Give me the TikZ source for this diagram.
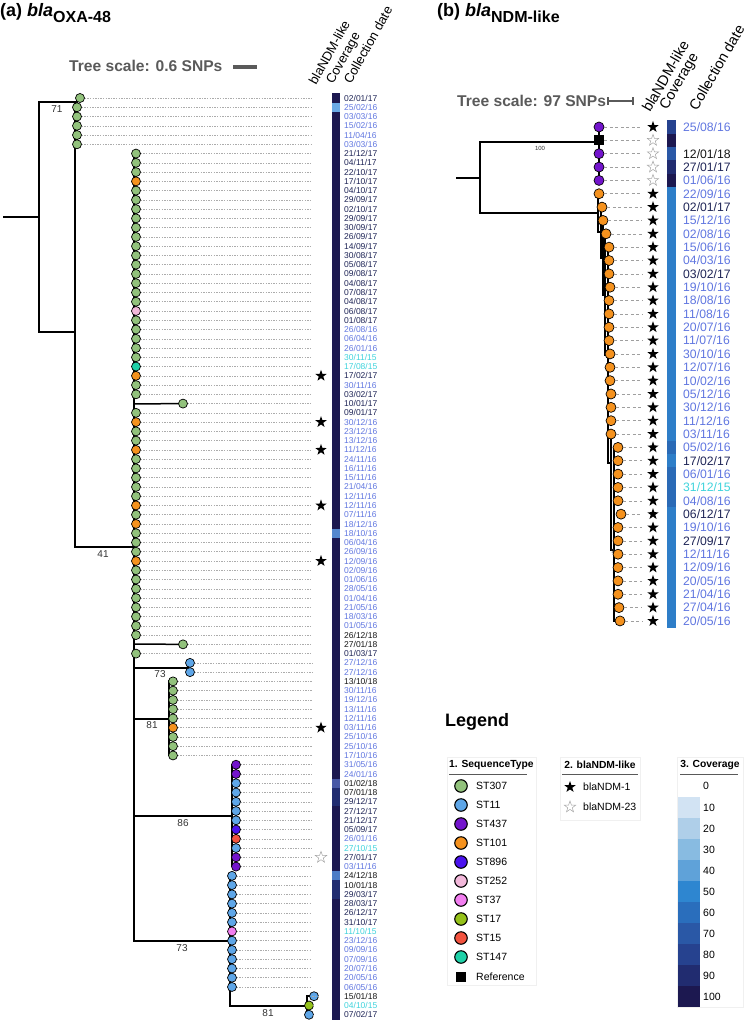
\documentclass[tikz,border=0pt]{standalone}
\usepackage{fontspec}
\setmainfont{Liberation Sans}
\usetikzlibrary{shapes.geometric}
\newcommand{\myfs}[1]{\fontsize{#1pt}{#1pt}\selectfont}
\definecolor{stg}{HTML}{92C27C}
\definecolor{stb}{HTML}{5EA6E8}
\definecolor{stp}{HTML}{7314CC}
\definecolor{sto}{HTML}{F5921E}
\definecolor{stv}{HTML}{4A12EE}
\definecolor{stk}{HTML}{F2B8DA}
\definecolor{stm}{HTML}{F27EF0}
\definecolor{sty}{HTML}{95C11A}
\definecolor{str}{HTML}{F2533F}
\definecolor{stt}{HTML}{1FD1A8}
\definecolor{cov0}{HTML}{FFFFFF}
\definecolor{cov10}{HTML}{D2E3F3}
\definecolor{cov20}{HTML}{AFCFE9}
\definecolor{cov30}{HTML}{88BBE1}
\definecolor{cov40}{HTML}{5FA2D9}
\definecolor{cov50}{HTML}{2E86D0}
\definecolor{cov60}{HTML}{2A6EBC}
\definecolor{cov70}{HTML}{2A58A6}
\definecolor{cov80}{HTML}{26428F}
\definecolor{cov90}{HTML}{212C70}
\definecolor{cov100}{HTML}{1C1850}
\definecolor{covA}{HTML}{6AAAE6}
\definecolor{covB}{HTML}{5588CE}
\definecolor{covC}{HTML}{4858A6}
\definecolor{covD}{HTML}{4C7CC6}
\definecolor{covE}{HTML}{2E7EC8}
\definecolor{covF}{HTML}{2A6AB6}
\definecolor{yr15}{HTML}{3FD3DC}
\definecolor{yr16}{HTML}{6076E0}
\definecolor{yr17}{HTML}{1E2456}
\definecolor{yr18}{HTML}{151515}
\definecolor{scalegray}{HTML}{5A5A5A}
\definecolor{lblgray}{HTML}{333333}
\begin{document}
\begin{tikzpicture}[x=1pt,y=-1pt,
  leafA/.style={circle,draw=black,line width=0.7pt,minimum size=9pt,inner sep=0pt},
  leafB/.style={circle,draw=black,line width=0.7pt,minimum size=10pt,inner sep=0pt},
  brA/.style={line width=1.5pt,line cap=rect},
  brB/.style={line width=1.1pt,line cap=rect},
  leadA/.style={draw=gray!65,line width=0.5pt,dash pattern=on 1.3pt off 1.3pt},
  leadB/.style={draw=gray!75,line width=0.6pt,dash pattern=on 3pt off 2.5pt},
  starf/.style={star,star points=5,star point ratio=2.5,fill=black,inner sep=0pt,minimum size=12pt},
  stare/.style={star,star points=5,star point ratio=2.5,draw=gray!70,fill=white,line width=0.5pt,inner sep=0pt,minimum size=12pt},
  dateA/.style={anchor=west,inner sep=0pt,font=\myfs{8.5}},
  dateB/.style={anchor=west,inner sep=0pt,font=\myfs{12.2}},
  hdrA/.style={anchor=base west,rotate=61,inner sep=0pt,font=\myfs{13}},
  hdrB/.style={anchor=base west,rotate=60,inner sep=0pt,font=\myfs{14.5}},
  blbl/.style={inner sep=0pt,font=\myfs{10},text=lblgray},
  ttl/.style={anchor=base west,inner sep=0pt,font=\bfseries\myfs{18}},
  scl/.style={anchor=base west,inner sep=0pt,font=\bfseries\myfs{15.6},text=scalegray},
  lgbox/.style={draw=gray!12,line width=0.6pt},
  lgt/.style={inner sep=0pt,font=\bfseries\myfs{10.3}},
  lgx/.style={anchor=west,inner sep=0pt,font=\myfs{10.5}}
]
\useasboundingbox (0,0) rectangle (746,1022);

% ---------------- Titles ----------------
\node[ttl] (titA) at (0,17) {(a) \textit{bla}\raisebox{-6pt}{\myfs{16}OXA-48}};
\node[ttl] (titB) at (437,17) {(b) \textit{bla}\raisebox{-6pt}{\myfs{16}NDM-like}};

\node[scl] (sclA) at (69,72) {Tree scale: 0.6 SNPs};
\coordinate (sbA1) at (233,67); \coordinate (sbA2) at (257,67);
\draw[scalegray,line width=3.2pt] (sbA1) -- (sbA2);
\node[scl] (sclB) at (457,107) {Tree scale: 97 SNPs};
\coordinate (sbB1) at (608,101); \coordinate (sbB2) at (633,101);
\draw[scalegray,line width=2.4pt] (sbB1) -- (sbB2);
\draw[scalegray,line width=1.2pt] ([yshift=-4pt]sbB1) -- ([yshift=4pt]sbB1) ([yshift=-4pt]sbB2) -- ([yshift=4pt]sbB2);

\node[hdrA] (hA1) at (316,86) {blaNDM-like};
\node[hdrA] (hA2) at (333,85) {Coverage};
\node[hdrA] (hA3) at (351,85) {Collection date};
\node[hdrB] (hB1) at (650,113) {blaNDM-like};
\node[hdrB] (hB2) at (667,111) {Coverage};
\node[hdrB] (hB3) at (697,112) {Collection date};

% ---------------- Tree (a) ----------------
\coordinate (aR) at (4,217);
\coordinate (aN1) at (39,217);
\coordinate (aN1t) at (39,102);
\coordinate (aN1b) at (39,332);
\coordinate (aC71) at (77,102);
\coordinate (aC71t) at (77,98);
\coordinate (aC71b) at (77,145);
\coordinate (aN2) at (75,332);
\coordinate (aN2t) at (75,102);
\coordinate (aN2b) at (75,547);
\coordinate (aC41) at (134,547);
\coordinate (aC41t) at (134,153);
\coordinate (aC41b) at (134,941);
\coordinate (aX73) at (134,668);
\coordinate (aC73) at (188,668);
\coordinate (aX81) at (134,719);
\coordinate (aC81) at (169,719);
\coordinate (aX86) at (134,816);
\coordinate (aC86) at (232,816);
\coordinate (aC73b) at (230,941);
\coordinate (aC81b) at (307,1006);
\draw[brA] (aR) -- (aN1);
\draw[brA] (aN1t) -- (aN1b);
\draw[brA] (aN1t) -- (aC71);
\draw[brA] (aC71t) -- (aC71b);
\draw[brA] (aN1b) -- (aN2);
\draw[brA] (aN2t) -- (aN2b);
\draw[brA] (aN2b) -- (aC41);
\draw[brA] (aC41t) -- (aC41b);
\draw[brA] (aX73) -- (aC73);
\draw[brA] (188,663) -- (188,672);
\draw[brA] (aX81) -- (aC81);
\draw[brA] (169,681) -- (169,755);
\draw[brA] (aX86) -- (aC86);
\draw[brA] (232,765) -- (232,866);
\draw[brA] (aC41b) -- (aC73b);
\draw[brA] (230,876) -- (230,1006);
\draw[brA] (230,1006) -- (aC81b);
\draw[brA] (307,996) -- (307,1015);
\draw[brA] (307,996) -- (312,996);

\node[blbl] (bl71) at (57,109) {71};
\node[blbl] (bl41) at (103,554) {41};
\node[blbl] (bl73) at (160,674) {73};
\node[blbl] (bl81) at (152,725) {81};
\node[blbl] (bl86) at (183,823) {86};
\node[blbl] (bl73b) at (182,948) {73};
\node[blbl] (bl81b) at (268,1013) {81};

% coverage bar (a)
\fill[cov100] (332,93.4) rectangle (340,1020.3);
\foreach \n/\cc in {2/covA,48/covB,75/covC,76/cov90,77/cov90,85/covD,86/cov90,87/cov90}{
  \pgfmathsetmacro{\ry}{98+(\n-1)*9.26}
  \fill[\cc] (332,\ry-4.63) rectangle (340,\ry+4.63);
}

\foreach \n/\lx/\c/\dd/\mm/\yy in {
1/80/g/02/01/17, 2/77/g/25/02/16, 3/77/g/03/03/16, 4/77/g/15/02/16, 5/77/g/11/04/16, 6/77/g/03/03/16,
7/136/g/21/12/17, 8/136/g/04/11/17, 9/136/g/22/10/17, 10/136/o/17/10/17, 11/136/g/04/10/17, 12/136/g/29/09/17,
13/136/g/02/10/17, 14/136/g/29/09/17, 15/136/g/30/09/17, 16/136/g/26/09/17, 17/136/g/14/09/17, 18/136/g/30/08/17,
19/136/g/05/08/17, 20/136/g/09/08/17, 21/136/g/04/08/17, 22/136/g/07/08/17, 23/136/g/04/08/17, 24/136/k/06/08/17,
25/136/g/01/08/17, 26/136/g/26/08/16, 27/136/g/06/04/16, 28/136/g/26/01/16, 29/136/g/30/11/15, 30/136/t/17/08/15,
31/136/o/17/02/17, 32/136/g/30/11/16, 33/136/g/03/02/17, 34/183/g/10/01/17, 35/136/g/09/01/17, 36/136/o/30/12/16,
37/136/g/23/12/16, 38/136/g/13/12/16, 39/136/o/11/12/16, 40/136/g/24/11/16, 41/136/g/16/11/16, 42/136/g/15/11/16,
43/136/g/21/04/16, 44/136/g/12/11/16, 45/136/o/12/11/16, 46/136/g/07/11/16, 47/136/o/18/12/16, 48/136/g/18/10/16,
49/136/g/06/04/16, 50/136/g/26/09/16, 51/136/o/12/09/16, 52/136/g/02/09/16, 53/136/g/01/06/16, 54/136/g/28/05/16,
55/136/g/01/04/16, 56/136/g/21/05/16, 57/136/g/18/03/16, 58/136/g/01/05/16, 59/136/g/26/12/18, 60/183/g/27/01/18,
61/136/g/01/03/17, 62/190/b/27/12/16, 63/190/b/27/12/16, 64/173/g/13/10/18, 65/173/g/30/11/16, 66/173/g/19/12/16,
67/173/g/13/11/16, 68/173/g/12/11/16, 69/173/o/03/11/16, 70/173/g/25/10/16, 71/173/g/25/10/16, 72/173/g/17/10/16,
73/236/p/31/05/16, 74/236/p/24/01/16, 75/236/b/01/02/18, 76/236/b/07/01/18, 77/236/b/29/12/17, 78/236/b/27/12/17,
79/236/b/21/12/17, 80/236/v/05/09/17, 81/236/r/26/01/16, 82/236/b/27/10/15, 83/236/p/27/01/17, 84/236/p/03/11/16,
85/232/b/24/12/18, 86/232/b/10/01/18, 87/232/b/29/03/17, 88/232/b/28/03/17, 89/232/b/26/12/17, 90/232/b/31/10/17,
91/232/m/11/10/15, 92/232/b/23/12/16, 93/232/b/09/09/16, 94/232/b/07/09/16, 95/232/b/20/07/16, 96/232/b/20/05/16,
97/232/b/06/05/16, 98/314/b/15/01/18, 99/309/y/04/10/15, 100/309/b/07/02/17}{
  \pgfmathsetmacro{\ry}{98+(\n-1)*9.26}
  \node[leafA,fill=st\c] (la\n) at (\lx,\ry) {};
  \coordinate (ea\n) at (312,\ry);
  \draw[leadA] (la\n.east) -- (ea\n);
  \node[dateA,text=yr\yy] (da\n) at (344,\ry) {\dd/\mm/\yy};
}
\draw[brA] (134,404) -- (la34.west);
\draw[brA] (134,644) -- (la60.west);

\foreach \n/\s in {31/f,36/f,39/f,45/f,51/f,69/f,83/e}{
  \pgfmathsetmacro{\ry}{98+(\n-1)*9.26}
  \node[star\s] (sa\n) at (321,\ry) {};
}

% ---------------- Tree (b) ----------------
\coordinate (bR) at (457,178);
\coordinate (bN1) at (480,178);
\coordinate (bN1t) at (480,142);
\coordinate (bN1b) at (480,213);
\coordinate (bP) at (597,142);
\coordinate (bO) at (598,213);
\draw[brB] (bR) -- (bN1);
\draw[brB] (bN1t) -- (bN1b);
\draw[brB] (bN1t) -- (bP);
\draw[brB] (bN1b) -- (bO);
\draw[brB] (599,127) -- (599,180);
\draw[brB] (598,194) -- (598,232) -- (601,232);
\draw[brB] (601,207) -- (601,258) -- (603,258);
\draw[brB] (603,220) -- (603,295) -- (605,295);
\draw[brB] (605,234) -- (605,355) -- (608,355);
\draw[brB] (608,247) -- (608,463) -- (611,463);
\draw[brB] (611,434) -- (611,550) -- (614,550);
\draw[brB] (614,447) -- (614,621);
\node[inner sep=0pt,font=\myfs{6},text=lblgray] (bl100) at (540,148) {100};
\node[inner sep=0pt,font=\myfs{6},text=lblgray] (bl9) at (613,551) {9};

\fill[cov100] (667,120.3) rectangle (676,627.7);
\foreach \n/\cc in {1/cov80,2/cov100,3/cov70,4/cov90,5/cov100}{
  \pgfmathsetmacro{\ry}{127+(\n-1)*13.35}
  \fill[\cc] (667,\ry-6.675) rectangle (676,\ry+6.675);
}
\fill[covE] (667,187.1) rectangle (676,627.7);
\foreach \n in {25,27,28,29}{
  \pgfmathsetmacro{\ry}{127+(\n-1)*13.35}
  \fill[covF] (667,\ry-6.675) rectangle (676,\ry+6.675);
}

\node[fill=black,minimum size=10pt,inner sep=0pt] (lb2) at (599,140.35) {};
\coordinate (eb2) at (642,140.35);
\draw[leadB] (lb2.east) -- (eb2);
\node[stare] (sb2) at (653,140.35) {};

\foreach \n/\lx/\c/\dd/\mm/\yy/\s in {
1/599/p/25/08/16/f, 3/599/p/12/01/18/e, 4/599/p/27/01/17/e, 5/599/p/01/06/16/e, 6/599/o/22/09/16/f,
7/602/o/02/01/17/f, 8/603/o/15/12/16/f, 9/606/o/02/08/16/f, 10/609/o/15/06/16/f, 11/609/o/04/03/16/f,
12/609/o/03/02/17/f, 13/610/o/19/10/16/f, 14/609/o/18/08/16/f, 15/609/o/11/08/16/f, 16/609/o/20/07/16/f,
17/609/o/11/07/16/f, 18/610/o/30/10/16/f, 19/610/o/12/07/16/f, 20/610/o/10/02/16/f, 21/611/o/05/12/16/f,
22/611/o/30/12/16/f, 23/611/o/11/12/16/f, 24/611/o/03/11/16/f, 25/618/o/05/02/16/f, 26/618/o/17/02/17/f,
27/618/o/06/01/16/f, 28/618/o/31/12/15/f, 29/618/o/04/08/16/f, 30/621/o/06/12/17/f, 31/618/o/19/10/16/f,
32/618/o/27/09/17/f, 33/618/o/12/11/16/f, 34/618/o/12/09/16/f, 35/618/o/20/05/16/f, 36/618/o/21/04/16/f,
37/619/o/27/04/16/f, 38/620/o/20/05/16/f}{
  \pgfmathsetmacro{\ry}{127+(\n-1)*13.35}
  \node[leafB,fill=st\c] (lb\n) at (\lx,\ry) {};
  \coordinate (eb\n) at (642,\ry);
  \draw[leadB] (lb\n.east) -- (eb\n);
  \node[star\s] (sb\n) at (653,\ry) {};
  \node[dateB,text=yr\yy] (db\n) at (683,\ry) {\dd/\mm/\yy};
}

% ---------------- Legend ----------------
\node[anchor=west,inner sep=0pt,font=\bfseries\myfs{18}] (legT) at (445,722) {Legend};

\draw[lgbox] (447,757) rectangle (536,985);
\node[lgt,anchor=west] (lg1t) at (449,765) {1. SequenceType};
\draw[line width=0.5pt,gray!70!black] (449,774) -- (527,774);
\foreach \i/\c/\t in {0/g/ST307,1/b/ST11,2/p/ST437,3/o/ST101,4/v/ST896,5/k/ST252,6/m/ST37,7/y/ST17,8/r/ST15,9/t/ST147}{
  \node[circle,draw=black,line width=1.1pt,fill=st\c,minimum size=12.5pt,inner sep=0pt] (lgc\i) at (461,786+19*\i) {};
  \node[lgx] (lgn\i) at (476,786+19*\i) {\t};
}
\node[fill=black,minimum size=10pt,inner sep=0pt] (lgref) at (461,977) {};
\node[lgx] (lgreft) at (476,977) {Reference};

\draw[lgbox] (560,757) rectangle (640,820);
\node[lgt] (lg2t) at (600,765) {2. blaNDM-like};
\draw[line width=0.5pt,gray!70!black] (562,774) -- (638,774);
\node[starf] (lgs1) at (570,787) {};
\node[lgx] (lgs1t) at (583,787) {blaNDM-1};
\node[stare] (lgs2) at (570,807) {};
\node[lgx] (lgs2t) at (583,807) {blaNDM-23};

\draw[lgbox] (677,757) rectangle (743,1007);
\node[lgt] (lg3t) at (710,765) {3. Coverage};
\draw[line width=0.5pt,gray!70!black] (680,774) -- (738,774);
\node[lgx] (lgv0) at (703,786) {0};
\foreach \k in {1,...,10}{
  \pgfmathtruncatemacro{\v}{10*\k}
  \fill[cov\v] (678,797+21*\k-21) rectangle (700,797+21*\k);
  \node[lgx] (lgv\k) at (703,786.5+21*\k) {\v};
}
\end{tikzpicture}
\end{document}
